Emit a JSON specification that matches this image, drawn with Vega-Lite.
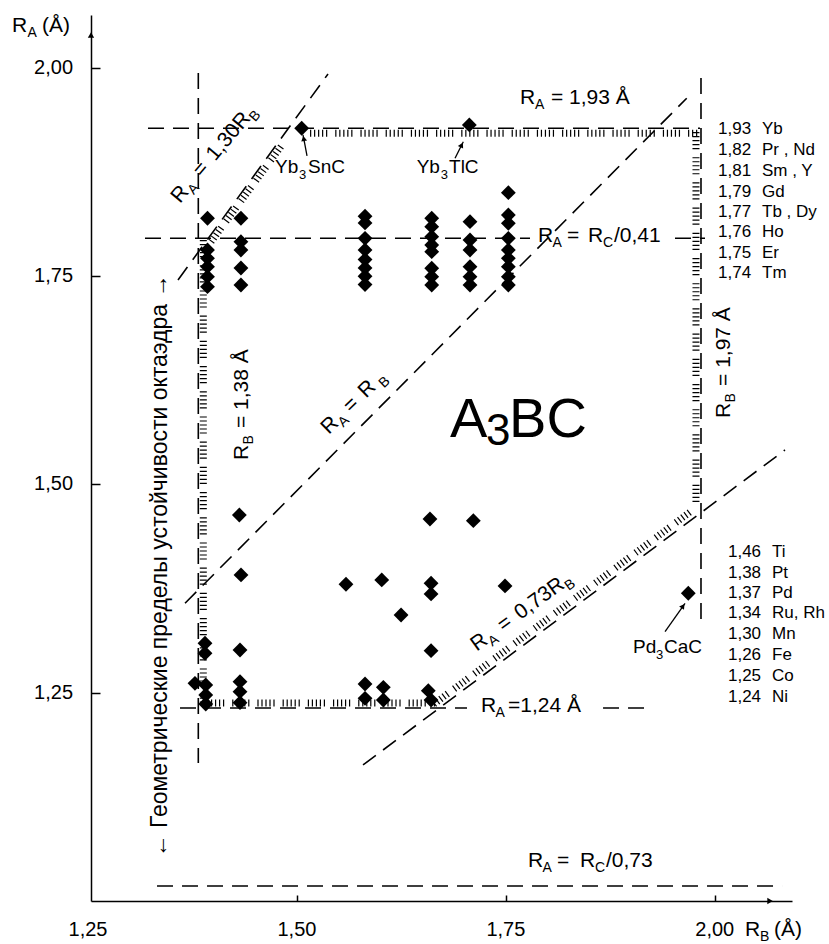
{
  "$schema": "https://vega.github.io/schema/vega-lite/v6.json",
  "width": 701,
  "height": 886,
  "autosize": {"type": "none"},
  "padding": {"left": 91, "top": 15, "right": 37, "bottom": 43},
  "background": "white",
  "config": {
    "view": {"stroke": null},
    "font": "Liberation Sans",
    "text": {"color": "black"},
    "axis": {"grid": false, "domainColor": "black", "domainWidth": 1.5, "tickColor": "black", "tickWidth": 1.5, "labelColor": "black", "labelFont": "Liberation Sans"}
  },
  "datasets": {
    "pts": [
      {"rb": 1.393, "ra": 1.8196}, {"rb": 1.393, "ra": 1.7815}, {"rb": 1.393, "ra": 1.7715}, {"rb": 1.393, "ra": 1.7615}, {"rb": 1.393, "ra": 1.7495}, {"rb": 1.393, "ra": 1.7375},
      {"rb": 1.433, "ra": 1.8196}, {"rb": 1.433, "ra": 1.7915}, {"rb": 1.433, "ra": 1.7815}, {"rb": 1.433, "ra": 1.7599}, {"rb": 1.433, "ra": 1.7395},
      {"rb": 1.5815, "ra": 1.822}, {"rb": 1.5815, "ra": 1.814}, {"rb": 1.5815, "ra": 1.7955}, {"rb": 1.5815, "ra": 1.7815}, {"rb": 1.5815, "ra": 1.77}, {"rb": 1.5815, "ra": 1.76}, {"rb": 1.5815, "ra": 1.75}, {"rb": 1.5815, "ra": 1.74},
      {"rb": 1.6613, "ra": 1.8196}, {"rb": 1.6613, "ra": 1.8095}, {"rb": 1.6613, "ra": 1.7975}, {"rb": 1.6613, "ra": 1.7875}, {"rb": 1.6613, "ra": 1.7795}, {"rb": 1.6613, "ra": 1.7596}, {"rb": 1.6613, "ra": 1.7495}, {"rb": 1.6613, "ra": 1.7395},
      {"rb": 1.7071, "ra": 1.8155}, {"rb": 1.7071, "ra": 1.7935}, {"rb": 1.7071, "ra": 1.7815}, {"rb": 1.7071, "ra": 1.7615}, {"rb": 1.7071, "ra": 1.7495}, {"rb": 1.7071, "ra": 1.7395},
      {"rb": 1.753, "ra": 1.8503}, {"rb": 1.753, "ra": 1.8235}, {"rb": 1.753, "ra": 1.8135}, {"rb": 1.753, "ra": 1.7955}, {"rb": 1.753, "ra": 1.7815}, {"rb": 1.753, "ra": 1.7715}, {"rb": 1.753, "ra": 1.7615}, {"rb": 1.753, "ra": 1.7495}, {"rb": 1.753, "ra": 1.7395},
      {"rb": 1.5057, "ra": 1.9276}, {"rb": 1.7063, "ra": 1.9316}, {"rb": 1.9683, "ra": 1.3694},
      {"rb": 1.4311, "ra": 1.4634}, {"rb": 1.6592, "ra": 1.4586}, {"rb": 1.7111, "ra": 1.4566},
      {"rb": 1.4331, "ra": 1.3914}, {"rb": 1.5587, "ra": 1.3802}, {"rb": 1.6015, "ra": 1.3854}, {"rb": 1.6605, "ra": 1.3814}, {"rb": 1.6605, "ra": 1.3686}, {"rb": 1.749, "ra": 1.3782},
      {"rb": 1.6246, "ra": 1.3433}, {"rb": 1.4319, "ra": 1.3013}, {"rb": 1.6605, "ra": 1.3005},
      {"rb": 1.39, "ra": 1.3094}, {"rb": 1.39, "ra": 1.2974}, {"rb": 1.378, "ra": 1.2613}, {"rb": 1.3909, "ra": 1.2593}, {"rb": 1.3909, "ra": 1.2473}, {"rb": 1.3909, "ra": 1.2365},
      {"rb": 1.4319, "ra": 1.2633}, {"rb": 1.4319, "ra": 1.2513}, {"rb": 1.4319, "ra": 1.2381},
      {"rb": 1.5815, "ra": 1.2605}, {"rb": 1.5815, "ra": 1.2433}, {"rb": 1.6034, "ra": 1.2565}, {"rb": 1.6034, "ra": 1.2413},
      {"rb": 1.6572, "ra": 1.2525}, {"rb": 1.6605, "ra": 1.2413}
    ],
    "lines": [
      {"id": "top193", "rb": 1.3218, "ra": 1.9276, "rb2": 1.9823, "ra2": 1.9276},
      {"id": "rc041a", "rb": 1.3182, "ra": 1.7956, "rb2": 1.7789, "ra2": 1.7956},
      {"id": "rc041b", "rb": 1.9524, "ra": 1.7956, "rb2": 1.9883, "ra2": 1.7956},
      {"id": "h124a", "rb": 1.3601, "ra": 1.2317, "rb2": 1.7035, "ra2": 1.2317},
      {"id": "h124b", "rb": 1.8663, "ra": 1.2317, "rb2": 1.9165, "ra2": 1.2317},
      {"id": "v138", "rb": 1.382, "ra": 1.994, "rb2": 1.382, "ra2": 1.1657},
      {"id": "v197", "rb": 1.9835, "ra": 1.988, "rb2": 1.9835, "ra2": 1.3373},
      {"id": "d130", "rb": 1.3577, "ra": 1.7455, "rb2": 1.5372, "ra2": 1.9928},
      {"id": "d1", "rb": 1.3661, "ra": 1.3574, "rb2": 1.9664, "ra2": 1.9636},
      {"id": "d073", "rb": 1.5791, "ra": 1.1633, "rb2": 2.084, "ra2": 1.5414},
      {"id": "rc073", "rb": 1.3326, "ra": 1.018, "rb2": 2.0805, "ra2": 1.018}
    ],
    "hatch": [
      {"id": "top", "rb": 1.5157, "ra": 1.9216, "rb2": 1.9823, "ra2": 1.9216},
      {"id": "right", "rb": 1.9775, "ra": 1.9232, "rb2": 1.9775, "ra2": 1.4754},
      {"id": "d073", "rb": 1.664, "ra": 1.2365, "rb2": 1.9752, "ra2": 1.4706},
      {"id": "bottom", "rb": 1.3924, "ra": 1.2377, "rb2": 1.6676, "ra2": 1.2377},
      {"id": "left", "rb": 1.388, "ra": 1.7935, "rb2": 1.388, "ra2": 1.2377},
      {"id": "d130", "rb": 1.3974, "ra": 1.7915, "rb2": 1.4836, "ra2": 1.9093}
    ],
    "arrows": [
      {"k": "sn", "rb": 1.5121, "ra": 1.8944, "rb2": 1.5073, "ra2": 1.9196},
      {"k": "tl", "rb": 1.6892, "ra": 1.8916, "rb2": 1.6991, "ra2": 1.9115},
      {"k": "ca", "rb": 1.9405, "ra": 1.3233, "rb2": 1.9644, "ra2": 1.3574}
    ],
    "heads": [
      {"k": "sn", "rb": 1.5081, "ra": 1.9154},
      {"k": "tl", "rb": 1.6971, "ra": 1.9076},
      {"k": "ca", "rb": 1.962, "ra": 1.3541},
      {"k": "yax", "rb": 1.2536, "ra": 2.0396},
      {"k": "xax", "rb": 2.0661, "ra": 1.0}
    ],
    "texts": [
      {"g": "hm", "t": "R", "rb": 1.7669, "ra": 1.9564},
      {"g": "hm", "t": "= 1,93 Å", "rb": 1.804, "ra": 1.9564},
      {"g": "hs", "t": "A", "rb": 1.7849, "ra": 1.9564},
      {"g": "hm", "t": "R", "rb": 1.7885, "ra": 1.7915},
      {"g": "hm", "t": "=", "rb": 1.8232, "ra": 1.7915},
      {"g": "hm", "t": "R", "rb": 1.8483, "ra": 1.7915},
      {"g": "hm", "t": "/0,41", "rb": 1.8794, "ra": 1.7915},
      {"g": "hs", "t": "A", "rb": 1.8058, "ra": 1.7915},
      {"g": "hs", "t": "C", "rb": 1.8663, "ra": 1.7915},
      {"g": "hm", "t": "R", "rb": 1.7203, "ra": 1.2273},
      {"g": "hm", "t": "=1,24 Å", "rb": 1.7526, "ra": 1.2273},
      {"g": "hs", "t": "A", "rb": 1.7376, "ra": 1.2273},
      {"g": "hm", "t": "R", "rb": 1.7765, "ra": 1.0408},
      {"g": "hm", "t": "=", "rb": 1.8112, "ra": 1.0408},
      {"g": "hm", "t": "R", "rb": 1.8387, "ra": 1.0408},
      {"g": "hm", "t": "/0,73", "rb": 1.8698, "ra": 1.0408},
      {"g": "hs", "t": "A", "rb": 1.7939, "ra": 1.0408},
      {"g": "hs", "t": "C", "rb": 1.8567, "ra": 1.0408},
      {"g": "hm", "t": "R", "rb": 1.1591, "ra": 2.0436},
      {"g": "hm", "t": "(Å)", "rb": 1.195, "ra": 2.0436},
      {"g": "hs", "t": "A", "rb": 1.1776, "ra": 2.0436},
      {"g": "hm", "t": "R", "rb": 2.0362, "ra": 0.958},
      {"g": "hm", "t": "(Å)", "rb": 2.0709, "ra": 0.958},
      {"g": "hs", "t": "B", "rb": 2.0541, "ra": 0.958},
      {"g": "cm", "t": "Yb", "rb": 1.4738, "ra": 1.8736},
      {"g": "cm", "t": "SnC", "rb": 1.5133, "ra": 1.8736},
      {"g": "cm", "t": "Yb", "rb": 1.6433, "ra": 1.8736},
      {"g": "cm", "t": "TlC", "rb": 1.682, "ra": 1.8736},
      {"g": "cm", "t": "Pd", "rb": 1.9021, "ra": 1.2974},
      {"g": "cm", "t": "CaC", "rb": 1.9392, "ra": 1.2974},
      {"g": "cs", "t": "3", "rb": 1.5025, "ra": 1.8736},
      {"g": "cs", "t": "3", "rb": 1.6722, "ra": 1.8736},
      {"g": "cs", "t": "3", "rb": 1.9297, "ra": 1.2974},
      {"g": "big", "t": "A", "rb": 1.6832, "ra": 1.557},
      {"g": "big", "t": "BC", "rb": 1.7538, "ra": 1.557},
      {"g": "bigs", "t": "3", "rb": 1.7263, "ra": 1.557},
      {"g": "list", "t": "1,93", "rb": 2.0039, "ra": 1.9208},
      {"g": "list", "t": "1,82", "rb": 2.0039, "ra": 1.8956},
      {"g": "list", "t": "1,81", "rb": 2.0039, "ra": 1.8704},
      {"g": "list", "t": "1,79", "rb": 2.0039, "ra": 1.8455},
      {"g": "list", "t": "1,77", "rb": 2.0039, "ra": 1.8215},
      {"g": "list", "t": "1,76", "rb": 2.0039, "ra": 1.7968},
      {"g": "list", "t": "1,75", "rb": 2.0039, "ra": 1.7716},
      {"g": "list", "t": "1,74", "rb": 2.0039, "ra": 1.7475},
      {"g": "list", "t": "Yb", "rb": 2.0565, "ra": 1.9208},
      {"g": "list", "t": "Pr , Nd", "rb": 2.0565, "ra": 1.8956},
      {"g": "list", "t": "Sm , Y", "rb": 2.0565, "ra": 1.8704},
      {"g": "list", "t": "Gd", "rb": 2.0565, "ra": 1.8455},
      {"g": "list", "t": "Tb , Dy", "rb": 2.0565, "ra": 1.8215},
      {"g": "list", "t": "Ho", "rb": 2.0565, "ra": 1.7968},
      {"g": "list", "t": "Er", "rb": 2.0565, "ra": 1.7716},
      {"g": "list", "t": "Tm", "rb": 2.0565, "ra": 1.7475},
      {"g": "list", "t": "1,46", "rb": 2.0158, "ra": 1.4133},
      {"g": "list", "t": "1,38", "rb": 2.0158, "ra": 1.3881},
      {"g": "list", "t": "1,37", "rb": 2.0158, "ra": 1.3634},
      {"g": "list", "t": "1,34", "rb": 2.0158, "ra": 1.3394},
      {"g": "list", "t": "1,30", "rb": 2.0158, "ra": 1.3142},
      {"g": "list", "t": "1,26", "rb": 2.0158, "ra": 1.2893},
      {"g": "list", "t": "1,25", "rb": 2.0158, "ra": 1.2645},
      {"g": "list", "t": "1,24", "rb": 2.0158, "ra": 1.2393},
      {"g": "list", "t": "Ti", "rb": 2.0685, "ra": 1.4133},
      {"g": "list", "t": "Pt", "rb": 2.0685, "ra": 1.3881},
      {"g": "list", "t": "Pd", "rb": 2.0685, "ra": 1.3634},
      {"g": "list", "t": "Ru, Rh", "rb": 2.0685, "ra": 1.3394},
      {"g": "list", "t": "Mn", "rb": 2.0685, "ra": 1.3142},
      {"g": "list", "t": "Fe", "rb": 2.0685, "ra": 1.2893},
      {"g": "list", "t": "Co", "rb": 2.0685, "ra": 1.2645},
      {"g": "list", "t": "Ni", "rb": 2.0685, "ra": 1.2393},
      {"g": "xt", "t": "1,25", "rb": 1.25, "ra": 0.958},
      {"g": "xt", "t": "1,50", "rb": 1.5, "ra": 0.958},
      {"g": "xt", "t": "1,75", "rb": 1.75, "ra": 0.958},
      {"g": "xt", "t": "2,00", "rb": 2.0, "ra": 0.958},
      {"g": "yt", "t": "1,25", "rb": 1.2321, "ra": 1.25},
      {"g": "yt", "t": "1,50", "rb": 1.2321, "ra": 1.5},
      {"g": "yt", "t": "1,75", "rb": 1.2321, "ra": 1.75},
      {"g": "yt", "t": "2,00", "rb": 1.2321, "ra": 2.0},
      {"g": "vm", "t": "R", "rb": 1.4415, "ra": 1.5294},
      {"g": "vm", "t": "= 1,38 Å", "rb": 1.4415, "ra": 1.5678},
      {"g": "vs", "t": "B", "rb": 1.4415, "ra": 1.548},
      {"g": "vm", "t": "R", "rb": 2.0182, "ra": 1.5798},
      {"g": "vm", "t": "= 1,97 Å", "rb": 2.0182, "ra": 1.6183},
      {"g": "vs", "t": "B", "rb": 2.0182, "ra": 1.5985},
      {"g": "d130m", "t": "R", "rb": 1.3601, "ra": 1.8367},
      {"g": "d130m", "t": "=", "rb": 1.3862, "ra": 1.868},
      {"g": "d130m", "t": "1,30R", "rb": 1.4024, "ra": 1.8873},
      {"g": "d130s", "t": "A", "rb": 1.372, "ra": 1.851},
      {"g": "d130s", "t": "B", "rb": 1.4455, "ra": 1.9388},
      {"g": "d1m", "t": "R", "rb": 1.538, "ra": 1.5594},
      {"g": "d1m", "t": "=", "rb": 1.5647, "ra": 1.5853},
      {"g": "d1m", "t": "R", "rb": 1.5828, "ra": 1.6028},
      {"g": "d1s", "t": "A", "rb": 1.5514, "ra": 1.5724},
      {"g": "d1s", "t": "B", "rb": 1.6, "ra": 1.6195},
      {"g": "d073m", "t": "R", "rb": 1.7151, "ra": 1.2993},
      {"g": "d073m", "t": "=", "rb": 1.7471, "ra": 1.3226},
      {"g": "d073m", "t": "0,73R", "rb": 1.7674, "ra": 1.3374},
      {"g": "d073s", "t": "A", "rb": 1.7301, "ra": 1.3102},
      {"g": "d073s", "t": "B", "rb": 1.8216, "ra": 1.3769},
      {"g": "ru", "t": "←  Геометрические пределы устойчивости октаэдра  →", "rb": 1.3445, "ra": 1.4022}
    ]
  },
  "encoding": {
    "x": {"field": "rb", "type": "quantitative", "scale": {"domain": [1.2536, 2.0924], "nice": false, "zero": false},
      "axis": {"values": [1.5, 1.75, 2.0], "labels": false, "title": null, "tickSize": -6}},
    "y": {"field": "ra", "type": "quantitative", "scale": {"domain": [1.0, 2.0636], "nice": false, "zero": false},
      "axis": {"values": [1.25, 1.5, 1.75, 2.0], "labels": false, "title": null, "tickSize": -9}}
  },
  "layer": [
    {"data": {"name": "lines"}, "mark": {"type": "rule", "color": "black", "strokeWidth": 1.6, "strokeDash": [16, 9]},
      "encoding": {"x2": {"field": "rb2"}, "y2": {"field": "ra2"}}},
    {"data": {"name": "hatch"}, "mark": {"type": "rule", "color": "black", "strokeWidth": 7, "strokeCap": "butt", "strokeDash": [1.2, 2.8, 1.2, 2.8, 1.2, 2.8, 1.2, 2.8, 1.2, 8]},
      "encoding": {"x2": {"field": "rb2"}, "y2": {"field": "ra2"}}},
    {"data": {"name": "arrows"}, "mark": {"type": "rule", "color": "black", "strokeWidth": 1.3},
      "encoding": {"x2": {"field": "rb2"}, "y2": {"field": "ra2"}}},
    {"data": {"name": "heads"}, "transform": [{"filter": "datum.k === 'sn'"}], "mark": {"type": "point", "shape": "triangle-up", "filled": true, "color": "black", "size": 35, "angle": -11, "opacity": 1}},
    {"data": {"name": "heads"}, "transform": [{"filter": "datum.k === 'tl'"}], "mark": {"type": "point", "shape": "triangle-up", "filled": true, "color": "black", "size": 35, "angle": 27, "opacity": 1}},
    {"data": {"name": "heads"}, "transform": [{"filter": "datum.k === 'ca'"}], "mark": {"type": "point", "shape": "triangle-up", "filled": true, "color": "black", "size": 35, "angle": 35, "opacity": 1}},
    {"data": {"name": "heads"}, "transform": [{"filter": "datum.k === 'yax'"}], "mark": {"type": "point", "shape": "triangle-up", "filled": true, "color": "black", "size": 40, "opacity": 1}},
    {"data": {"name": "heads"}, "transform": [{"filter": "datum.k === 'xax'"}], "mark": {"type": "point", "shape": "triangle-right", "filled": true, "color": "black", "size": 40, "opacity": 1}},
    {"data": {"name": "pts"}, "mark": {"type": "point", "shape": "diamond", "filled": true, "color": "black", "size": 220, "opacity": 1}},
    {"data": {"name": "texts"}, "transform": [{"filter": "datum.g === 'hm'"}], "mark": {"type": "text", "fontSize": 21, "align": "left", "baseline": "alphabetic"}, "encoding": {"text": {"field": "t"}}},
    {"data": {"name": "texts"}, "transform": [{"filter": "datum.g === 'hs'"}], "mark": {"type": "text", "fontSize": 14, "align": "left", "baseline": "alphabetic", "dy": 5}, "encoding": {"text": {"field": "t"}}},
    {"data": {"name": "texts"}, "transform": [{"filter": "datum.g === 'cm'"}], "mark": {"type": "text", "fontSize": 19, "align": "left", "baseline": "alphabetic"}, "encoding": {"text": {"field": "t"}}},
    {"data": {"name": "texts"}, "transform": [{"filter": "datum.g === 'cs'"}], "mark": {"type": "text", "fontSize": 13, "align": "left", "baseline": "alphabetic", "dy": 6}, "encoding": {"text": {"field": "t"}}},
    {"data": {"name": "texts"}, "transform": [{"filter": "datum.g === 'big'"}], "mark": {"type": "text", "fontSize": 56, "align": "left", "baseline": "alphabetic"}, "encoding": {"text": {"field": "t"}}},
    {"data": {"name": "texts"}, "transform": [{"filter": "datum.g === 'bigs'"}], "mark": {"type": "text", "fontSize": 44, "align": "left", "baseline": "alphabetic", "dy": 8}, "encoding": {"text": {"field": "t"}}},
    {"data": {"name": "texts"}, "transform": [{"filter": "datum.g === 'list'"}], "mark": {"type": "text", "fontSize": 17, "align": "left", "baseline": "alphabetic"}, "encoding": {"text": {"field": "t"}}},
    {"data": {"name": "texts"}, "transform": [{"filter": "datum.g === 'xt'"}], "mark": {"type": "text", "fontSize": 20, "align": "center", "baseline": "alphabetic"}, "encoding": {"text": {"field": "t"}}},
    {"data": {"name": "texts"}, "transform": [{"filter": "datum.g === 'yt'"}], "mark": {"type": "text", "fontSize": 20, "align": "right", "baseline": "middle"}, "encoding": {"text": {"field": "t"}}},
    {"data": {"name": "texts"}, "transform": [{"filter": "datum.g === 'vm'"}], "mark": {"type": "text", "fontSize": 21, "align": "left", "baseline": "alphabetic", "angle": -90}, "encoding": {"text": {"field": "t"}}},
    {"data": {"name": "texts"}, "transform": [{"filter": "datum.g === 'vs'"}], "mark": {"type": "text", "fontSize": 14, "align": "left", "baseline": "alphabetic", "angle": -90, "dy": 5}, "encoding": {"text": {"field": "t"}}},
    {"data": {"name": "texts"}, "transform": [{"filter": "datum.g === 'd130m'"}], "mark": {"type": "text", "fontSize": 21, "align": "left", "baseline": "alphabetic", "angle": -50}, "encoding": {"text": {"field": "t"}}},
    {"data": {"name": "texts"}, "transform": [{"filter": "datum.g === 'd130s'"}], "mark": {"type": "text", "fontSize": 14, "align": "left", "baseline": "alphabetic", "angle": -50, "dy": 5}, "encoding": {"text": {"field": "t"}}},
    {"data": {"name": "texts"}, "transform": [{"filter": "datum.g === 'd1m'"}], "mark": {"type": "text", "fontSize": 21, "align": "left", "baseline": "alphabetic", "angle": -44}, "encoding": {"text": {"field": "t"}}},
    {"data": {"name": "texts"}, "transform": [{"filter": "datum.g === 'd1s'"}], "mark": {"type": "text", "fontSize": 14, "align": "left", "baseline": "alphabetic", "angle": -44, "dy": 5}, "encoding": {"text": {"field": "t"}}},
    {"data": {"name": "texts"}, "transform": [{"filter": "datum.g === 'd073m'"}], "mark": {"type": "text", "fontSize": 21, "align": "left", "baseline": "alphabetic", "angle": -36}, "encoding": {"text": {"field": "t"}}},
    {"data": {"name": "texts"}, "transform": [{"filter": "datum.g === 'd073s'"}], "mark": {"type": "text", "fontSize": 14, "align": "left", "baseline": "alphabetic", "angle": -36, "dy": 5}, "encoding": {"text": {"field": "t"}}},
    {"data": {"name": "texts"}, "transform": [{"filter": "datum.g === 'ru'"}], "mark": {"type": "text", "fontSize": 23, "align": "center", "baseline": "alphabetic", "angle": -90}, "encoding": {"text": {"field": "t"}}}
  ]
}
